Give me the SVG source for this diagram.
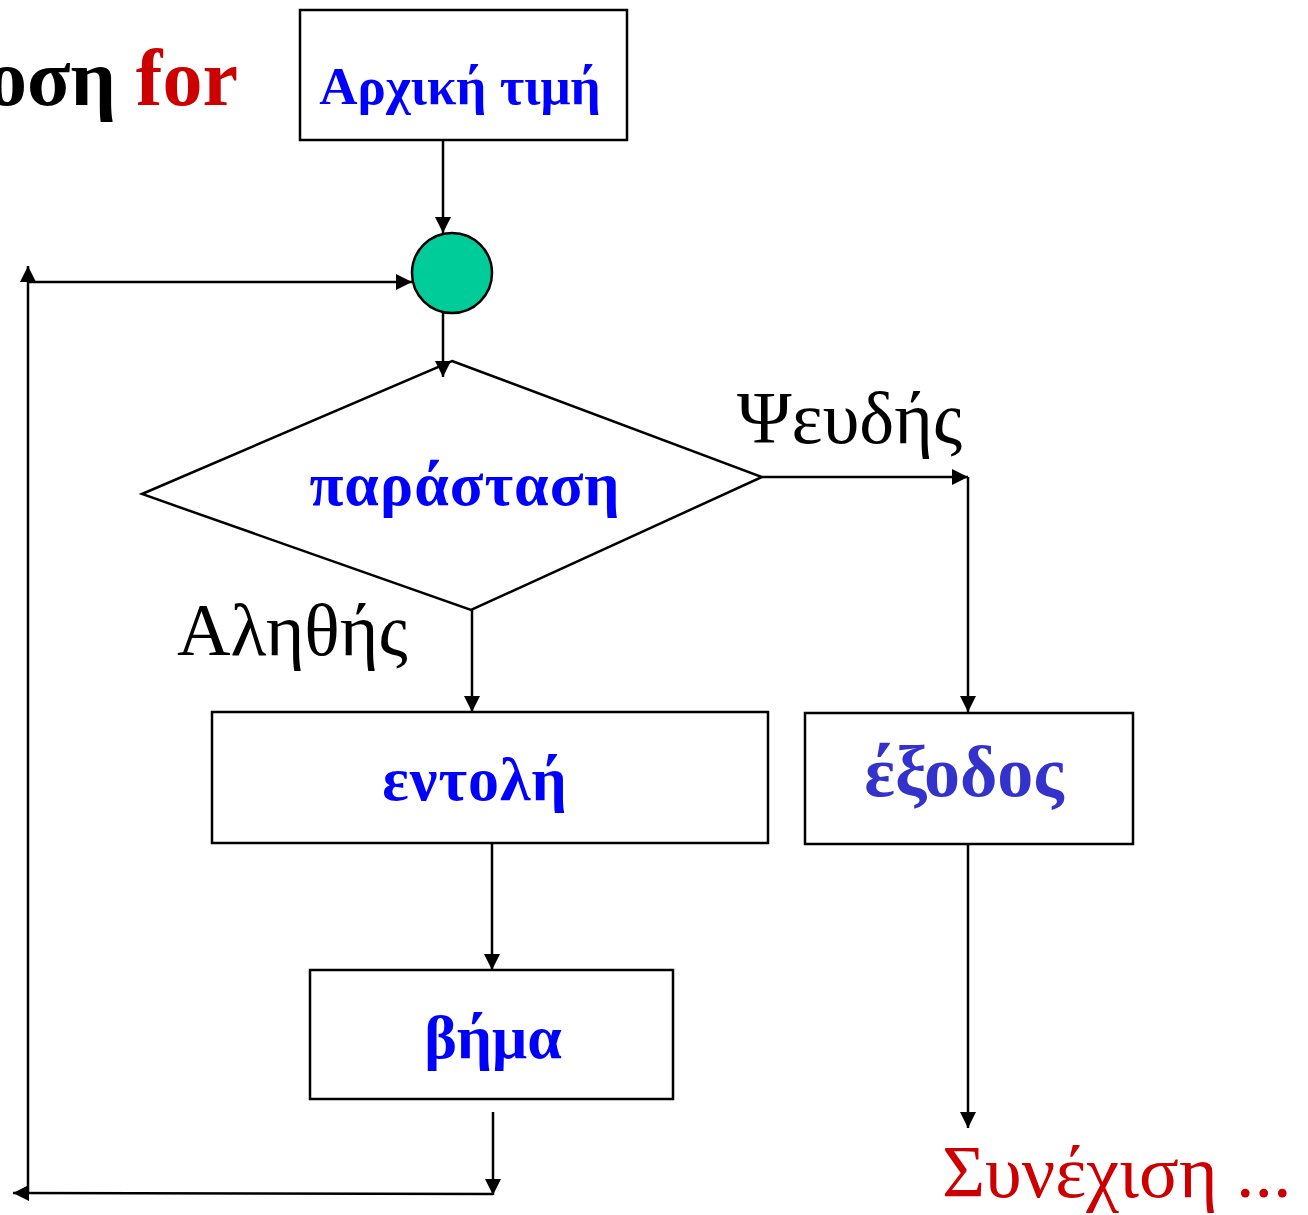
<svg xmlns="http://www.w3.org/2000/svg" width="1308" height="1215" viewBox="0 0 1308 1215">
<style>
.box{fill:#fff;stroke:#000;stroke-width:2.5}
.ln{fill:none;stroke:#000;stroke-width:2.5}
.lbl{font-family:"Liberation Serif","DejaVu Serif",serif;fill:#000}
.bt{font-family:"Liberation Serif","DejaVu Serif",serif;font-weight:bold;fill:#0000FF;text-anchor:middle}
</style>
<defs>
<marker id="ah" viewBox="0 0 10 10" refX="10" refY="5" markerWidth="6.8" markerHeight="6.4" markerUnits="strokeWidth" orient="auto">
<path d="M0,0 L10,5 L0,10 z" fill="#000"/>
</marker>
</defs>
<rect width="1308" height="1215" fill="#fff"/>
<g id="title">
<text x="238" y="105" text-anchor="end" class="lbl" font-size="80" font-weight="bold">οση <tspan fill="#CC0000">for</tspan></text>
</g>
<g id="init">
<rect class="box" x="300" y="10" width="327" height="130"/>
<text class="bt" x="460" y="104" font-size="53">Αρχική τιμή</text>
</g>
<g id="junction">
<circle cx="452" cy="273" r="40" fill="#00CC99" stroke="#000" stroke-width="2.5"/>
</g>
<g id="condition">
<polygon class="box" points="452,361 762,477 471,610 142,494"/>
<text class="bt" x="465" y="505" font-size="62" letter-spacing="1">παράσταση</text>
</g>
<g id="false-label">
<text class="lbl" x="737" y="443" font-size="74">Ψευδής</text>
</g>
<g id="true-label">
<text class="lbl" x="177" y="655" font-size="74">Αληθής</text>
</g>
<g id="statement">
<rect class="box" x="212" y="712" width="556" height="131"/>
<text class="bt" x="475" y="800" font-size="62" letter-spacing="1">εντολή</text>
</g>
<g id="exit">
<rect class="box" x="805" y="713" width="328" height="131"/>
<text class="bt" x="964" y="796" font-size="72" style="fill:#3333CC">έξοδος</text>
</g>
<g id="step">
<rect class="box" x="310" y="970" width="363" height="129"/>
<text class="bt" x="493" y="1058" font-size="62">βήμα</text>
</g>
<g id="continue">
<text class="lbl" x="942" y="1197" font-size="74" style="fill:#CC0000">Συνέχιση ...</text>
</g>
<g id="connectors">
<line class="ln" x1="443" y1="140" x2="443" y2="233" marker-end="url(#ah)"/>
<line class="ln" x1="443" y1="313" x2="443" y2="377" marker-end="url(#ah)"/>
<line class="ln" x1="762" y1="477" x2="968" y2="477" marker-end="url(#ah)"/>
<line class="ln" x1="968" y1="477" x2="968" y2="712" marker-end="url(#ah)"/>
<line class="ln" x1="472" y1="610" x2="472" y2="712" marker-end="url(#ah)"/>
<line class="ln" x1="492" y1="843" x2="492" y2="970" marker-end="url(#ah)"/>
<line class="ln" x1="493" y1="1112" x2="493" y2="1195" marker-end="url(#ah)"/>
<line class="ln" x1="493" y1="1194" x2="13" y2="1193" marker-end="url(#ah)"/>
<line class="ln" x1="28" y1="1193" x2="28" y2="266" marker-end="url(#ah)"/>
<line class="ln" x1="28" y1="282" x2="412" y2="282" marker-end="url(#ah)"/>
<line class="ln" x1="968" y1="844" x2="968" y2="1128" marker-end="url(#ah)"/>
</g>
</svg>
